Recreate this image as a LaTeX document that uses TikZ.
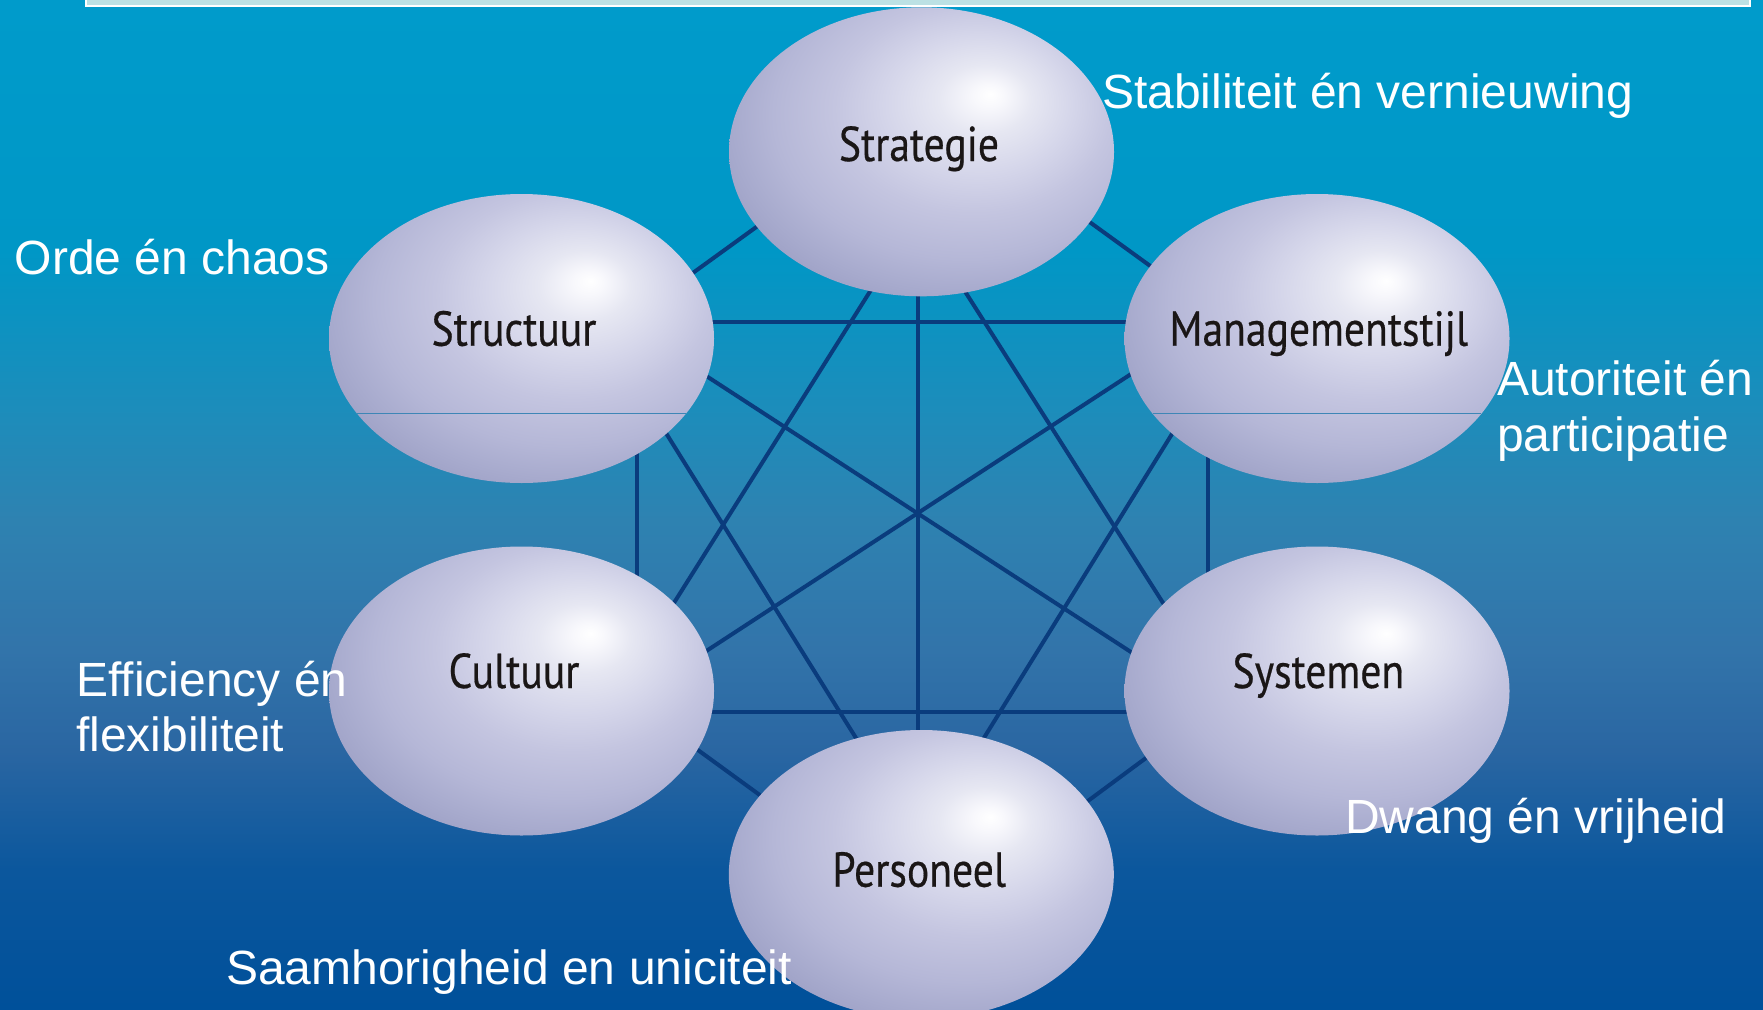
\documentclass[tikz,border=0pt]{standalone}
\usepackage{fontspec}
\setmainfont{Liberation Sans}
\newfontfamily\ellfont[FakeStretch=0.85,FakeBold=0.4]{PT Sans}
\usetikzlibrary{shapes.geometric}
\definecolor{bgA}{HTML}{009BCB}
\definecolor{bgB}{HTML}{0097C6}
\definecolor{bgC}{HTML}{1E8CBA}
\definecolor{bgD}{HTML}{2E82B1}
\definecolor{bgE}{HTML}{3274AA}
\definecolor{bgF}{HTML}{2A66A2}
\definecolor{bgG}{HTML}{0B579D}
\definecolor{bgH}{HTML}{00509A}
\definecolor{elA}{HTML}{F8F8FC}
\definecolor{elB}{HTML}{E6E7F2}
\definecolor{elC}{HTML}{D5D6EA}
\definecolor{elD}{HTML}{C4C5E0}
\definecolor{elE}{HTML}{B5B7D7}
\definecolor{elF}{HTML}{A7AACD}
\definecolor{elG}{HTML}{999CC2}
\definecolor{elH}{HTML}{8E92BA}
\definecolor{elI}{HTML}{8A8EB8}
\definecolor{linkcol}{HTML}{0A3C7D}
\definecolor{chordcol}{HTML}{3E86B6}
\definecolor{barfill}{HTML}{BCE1E4}
\definecolor{labeltext}{HTML}{1A1616}
\pgfdeclareverticalshading{bgshade}{100bp}{color(0bp)=(bgH); color(25bp)=(bgH); color(31.9bp)=(bgG); color(37.8bp)=(bgF); color(42.8bp)=(bgE); color(49.2bp)=(bgD); color(54.2bp)=(bgC); color(62.6bp)=(bgB); color(75bp)=(bgA); color(100bp)=(bgA)}
\pgfdeclareradialshading{ballshade}{\pgfpoint{9bp}{10bp}}{color(0bp)=(white); color(2bp)=(elA); color(6bp)=(elB); color(12bp)=(elC); color(18bp)=(elD); color(25bp)=(elE); color(30bp)=(elF); color(35bp)=(elG); color(40bp)=(elH); color(70bp)=(elI)}
\tikzset{
  bubble/.style={ellipse, shading=ballshade, draw=none, inner sep=0pt, minimum width=385pt, minimum height=289pt},
  bubblelabel/.style={anchor=base, inner sep=0pt, text=labeltext, font=\ellfont\fontsize{49}{55}\selectfont},
  whitelabel/.style={anchor=base west, inner sep=0pt, text=white, font=\fontsize{48}{56}\selectfont},
  link/.style={draw=linkcol, line width=4pt},
  chord/.style={draw=chordcol, line width=1.2pt}
}
\begin{document}
\begin{tikzpicture}[x=1pt, y=-1pt]
\path[use as bounding box] (0,0) rectangle (1763,1009);
\shade[shading=bgshade] (0,0) rectangle (1763,1009);
\draw[white, line width=2pt, fill=barfill] (86.2,-10) rectangle (1749.5,5.7);

% connector end points
\coordinate (l1a) at (640,311.2);   \coordinate (l1b) at (800,195.4);
\coordinate (l2a) at (1040,186.1);  \coordinate (l2b) at (1200,302);
\coordinate (l3a) at (902.4,240);   \coordinate (l3b) at (650.6,640);
\coordinate (l4a) at (932.3,240);   \coordinate (l4b) at (1186.6,640);
\coordinate (l5a) at (918,240);     \coordinate (l5b) at (918,800);
\coordinate (l6a) at (650,321.5);   \coordinate (l6b) at (1190,321.5);
\coordinate (l7a) at (636.8,400);   \coordinate (l7b) at (636.8,600);
\coordinate (l8a) at (1208.3,400);  \coordinate (l8b) at (1208.3,600);
\coordinate (l9a) at (650,711.5);   \coordinate (l9b) at (1190,711.5);
\coordinate (l10a) at (650,339.4);  \coordinate (l10b) at (1190,690.4);
\coordinate (l11a) at (1190,335.6); \coordinate (l11b) at (650,687.7);
\coordinate (l12a) at (645.4,400);  \coordinate (l12b) at (894.6,800);
\coordinate (l13a) at (1193,400);   \coordinate (l13b) at (945.5,800);
\coordinate (l14a) at (650,715.1);  \coordinate (l14b) at (800,824.3);
\coordinate (l15a) at (1040,836.4); \coordinate (l15b) at (1190,725.4);

\foreach \i in {1,...,15} {\draw[link] (l\i a) -- (l\i b);}

% bubbles
\node[bubble] (strat) at (921.5,151.8) {};
\node[bubble] (struc) at (521.5,338.5) {};
\node[bubble] (mgmt)  at (1317,338.5) {};
\node[bubble] (cult)  at (521.5,691) {};
\node[bubble] (sys)   at (1317,691) {};
\node[bubble] (pers)  at (921.3,874.5) {};

\draw[chord] (356.8,413.3) -- (686.2,413.3);
\draw[chord] (1152.7,413.3) -- (1481.3,413.3);

\node[bubblelabel] (strat-t) at (919,161) {Strategie};
\node[bubblelabel] (struc-t) at (514,345.7) {Structuur};
\node[bubblelabel] (mgmt-t)  at (1318.8,345.7) {Managementstijl};
\node[bubblelabel] (cult-t)  at (514,688) {Cultuur};
\node[bubblelabel] (sys-t)   at (1318.4,688) {Systemen};
\node[bubblelabel] (pers-t)  at (919.2,886.7) {Personeel};

% outer labels
\node[whitelabel] (w1) at (1102,108) {Stabiliteit én vernieuwing};
\node[whitelabel] (w2) at (14.5,274) {Orde én chaos};
\node[whitelabel] (w3a) at (1497,395) {Autoriteit én};
\node[whitelabel] (w3b) at (1497,451.7) {participatie};
\node[whitelabel] (w4a) at (76,696.7) {Efficiency én};
\node[whitelabel] (w4b) at (76,751.7) {flexibiliteit};
\node[whitelabel] (w5) at (1345,833) {Dwang én vrijheid};
\node[whitelabel] (w6) at (226,984) {Saamhorigheid en uniciteit};
\end{tikzpicture}
\end{document}
